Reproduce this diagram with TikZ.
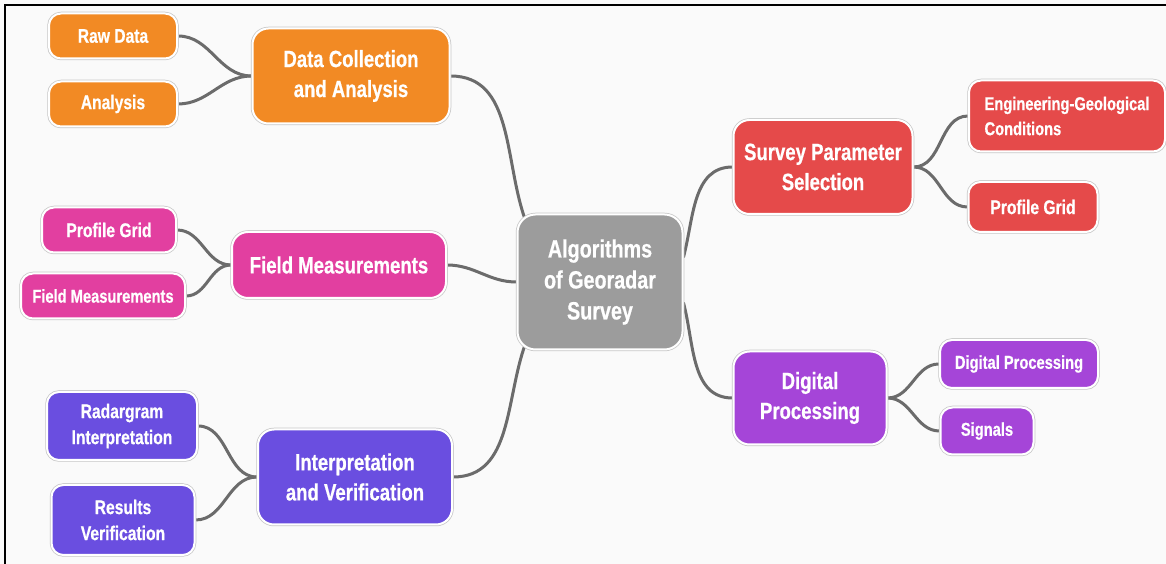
\documentclass[tikz,border=0pt]{standalone}
\usepackage{fontspec}
\setmainfont{Liberation Sans}[FakeStretch=0.79, BoldFeatures={FakeBold=0.6}]
\usetikzlibrary{backgrounds}

\definecolor{orangebox}{HTML}{F28A24}
\definecolor{pinkbox}{HTML}{E23FA0}
\definecolor{indigobox}{HTML}{6A4EE0}
\definecolor{redbox}{HTML}{E54A4A}
\definecolor{violetbox}{HTML}{A545D8}
\definecolor{hubgray}{HTML}{9C9C9C}
\definecolor{linkgray}{HTML}{6B6B6B}
\definecolor{paper}{HTML}{FAFAFA}

\tikzset{
  box/.style={rectangle, text=white, align=center, inner sep=2pt,
    preaction={draw=black!22, line width=3.5pt}, draw=white, line width=2pt},
  hubbox/.style={box, rounded corners=18pt, fill=hubgray,
    font=\bfseries\fontsize{25}{31}\selectfont},
  mainbox/.style={box, rounded corners=16pt,
    font=\bfseries\fontsize{23.5}{30}\selectfont},
  leafbox/.style={box, rounded corners=12pt,
    font=\bfseries\fontsize{19.8}{26}\selectfont},
  smallleaf/.style={leafbox, font=\bfseries\fontsize{18.6}{25}\selectfont},
  link/.style={draw=linkgray, line width=3pt, line cap=round}
}

\begin{document}
\begin{tikzpicture}[x=1pt,y=1pt]
  \useasboundingbox (0,0) rectangle (1166,564);

  % centre
  \node[hubbox, minimum width=165pt, minimum height=135pt] (hub) at (600,282)
    {Algorithms\\of Georadar\\Survey};

  % left branches
  \node[mainbox, fill=orangebox, minimum width=197pt, minimum height=95pt] (dca) at (351,488)
    {Data Collection\\and Analysis};
  \node[leafbox, fill=orangebox, minimum width=128pt, minimum height=45pt] (raw) at (113,528) {Raw Data};
  \node[leafbox, fill=orangebox, minimum width=128pt, minimum height=45pt] (ana) at (113,460) {Analysis};

  \node[mainbox, fill=pinkbox, minimum width=214pt, minimum height=66pt] (fm) at (339,299)
    {Field Measurements};
  \node[leafbox, fill=pinkbox, minimum width=134pt, minimum height=45pt] (fmgrid) at (109,334) {Profile Grid};
  \node[smallleaf, fill=pinkbox, minimum width=164pt, minimum height=45pt] (fmsmall) at (103,268) {Field Measurements};

  \node[mainbox, fill=indigobox, minimum width=194pt, minimum height=95pt] (iv) at (355,87)
    {Interpretation\\and Verification};
  \node[leafbox, fill=indigobox, minimum width=150pt, minimum height=68pt] (rad) at (122,138)
    {Radargram\\Interpretation};
  \node[leafbox, fill=indigobox, minimum width=143pt, minimum height=70pt] (res) at (123,44)
    {Results\\Verification};

  % right branches
  \node[mainbox, fill=redbox, minimum width=179pt, minimum height=94pt] (sps) at (823,397)
    {Survey Parameter\\Selection};
  \node[smallleaf, fill=redbox, align=left, minimum width=196pt, minimum height=71pt] (egc) at (1067,448)
    {Engineering-Geological\\Conditions};
  \node[leafbox, fill=redbox, minimum width=129pt, minimum height=50pt] (pgr) at (1033,357) {Profile Grid};

  \node[mainbox, fill=violetbox, minimum width=153pt, minimum height=93pt] (dp) at (810,166)
    {Digital\\Processing};
  \node[smallleaf, fill=violetbox, minimum width=158pt, minimum height=48pt] (dps) at (1019,200) {Digital Processing};
  \node[smallleaf, fill=violetbox, minimum width=93pt, minimum height=47pt] (sig) at (987,133) {Signals};

  \begin{scope}[on background layer]
    \fill[paper] (0,0) rectangle (1166,564);
    \draw[line width=2.2pt] (5,0) -- (5,559) -- (1166,559);

    \draw[link] (dca.east) to[out=0,in=110] ([shift={(9,-7)}]hub.north west);
    \draw[link] (fm.east) to[out=0,in=180] (hub.west);
    \draw[link] (iv.east) to[out=0,in=-110] ([shift={(9,7)}]hub.south west);
    \draw[link] ([yshift=25pt]hub.east) to[out=75,in=180] (sps.west);
    \draw[link] ([yshift=-21pt]hub.east) to[out=-75,in=180] (dp.west);

    \draw[link] (raw.east) to[out=0,in=180] (dca.west);
    \draw[link] (ana.east) to[out=0,in=180] (dca.west);
    \draw[link] (fmgrid.east) to[out=0,in=180] (fm.west);
    \draw[link] (fmsmall.east) to[out=0,in=180] (fm.west);
    \draw[link] (rad.east) to[out=0,in=180] (iv.west);
    \draw[link] (res.east) to[out=0,in=180] (iv.west);

    \draw[link] (sps.east) to[out=0,in=180] (egc.west);
    \draw[link] (sps.east) to[out=0,in=180] (pgr.west);
    \draw[link] (dp.east) to[out=0,in=180] (dps.west);
    \draw[link] (dp.east) to[out=0,in=180] (sig.west);
  \end{scope}
\end{tikzpicture}
\end{document}
